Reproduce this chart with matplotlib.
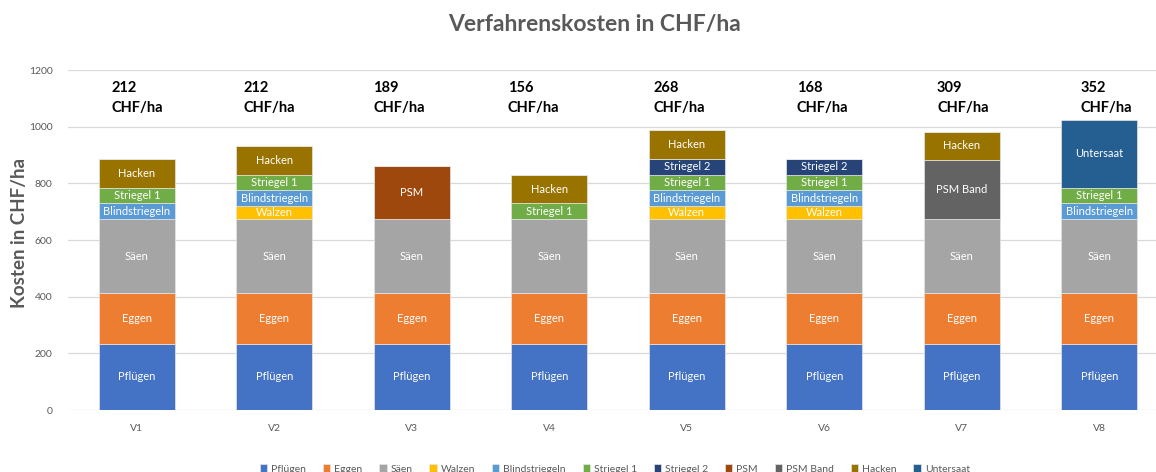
import numpy as np
import matplotlib
matplotlib.use('Agg')
import matplotlib.pyplot as plt

plt.rcParams['font.family'] = ['Lato', 'DejaVu Sans']

# cost per operation and variant in CHF/ha
variants = ['V1', 'V2', 'V3', 'V4', 'V5', 'V6', 'V7', 'V8']
operations = ['Pflügen', 'Eggen', 'Säen', 'Walzen', 'Blindstriegeln', 'Striegel 1',
              'Striegel 2', 'PSM', 'PSM Band', 'Hacken', 'Untersaat']
pfluegen = [233, 233, 233, 233, 233, 233, 233, 233]
eggen = [179, 179, 179, 179, 179, 179, 179, 179]
saeen = [261, 261, 261, 261, 261, 261, 261, 261]
walzen = [0, 46, 0, 0, 46, 46, 0, 0]
blindstriegeln = [56, 56, 0, 0, 56, 56, 0, 56]
striegel1 = [56, 56, 0, 56, 56, 56, 0, 56]
striegel2 = [0, 0, 0, 0, 56, 56, 0, 0]
psm = [0, 0, 189, 0, 0, 0, 0, 0]
psm_band = [0, 0, 0, 0, 0, 0, 209, 0]
hacken = [100, 100, 0, 100, 100, 0, 100, 0]
untersaat = [0, 0, 0, 0, 0, 0, 0, 240]

series = [pfluegen, eggen, saeen, walzen, blindstriegeln, striegel1,
          striegel2, psm, psm_band, hacken, untersaat]
colors = ['#4472C4', '#ED7D31', '#A5A5A5', '#FFC000', '#5B9BD5', '#70AD47',
          '#264478', '#9E480E', '#636363', '#997300', '#255E91']
# weed control operations (everything after Walzen) make up the total above each bar
weed_idx = [4, 5, 6, 7, 8, 9, 10]
label_shift = [-0.18, -0.22, -0.28, -0.30, -0.245, -0.20, -0.18, -0.133]

fig = plt.figure(figsize=(11.56, 4.72), dpi=100)
ax = fig.add_axes([68 / 1156, 62 / 472, 1100 / 1156, 340 / 472])

x = np.arange(len(variants))
bottom = np.zeros(len(variants))
for name, vals, col in zip(operations, series, colors):
    vals = np.asarray(vals, dtype=float)
    ax.bar(x, vals, 0.55, bottom=bottom, color=col, label=name,
           edgecolor='#E6E6E6', linewidth=0.5, zorder=3)
    for i, v in enumerate(vals):
        if v > 0:
            ax.text(x[i], bottom[i] + v / 2, name, ha='center', va='center',
                    color='white', fontsize=8, zorder=4)
    bottom += vals

weed = np.sum([series[k] for k in weed_idx], axis=0)
for i, w in enumerate(weed):
    ax.text(x[i] + label_shift[i], 1138, '%d' % w, ha='left', va='center',
            fontsize=10.5, fontweight='bold', color='black')
    ax.text(x[i] + label_shift[i], 1065, 'CHF/ha', ha='left', va='center',
            fontsize=10.5, fontweight='bold', color='black')

ax.set_xlim(-0.5, 7.5)
ax.set_ylim(0, 1200)
ax.set_yticks(np.arange(0, 1201, 200))
ax.set_xticks(x)
ax.set_xticklabels(variants)
ax.yaxis.grid(True, color='#D9D9D9', linewidth=0.9, zorder=0)
ax.set_axisbelow(True)
for s in ax.spines.values():
    s.set_visible(False)
ax.tick_params(axis='both', length=0, colors='#595959', labelsize=7.5)
ax.tick_params(axis='y', pad=11)
ax.tick_params(axis='x', pad=10)

fig.text(594 / 1156, 1 - 25 / 472, 'Verfahrenskosten in CHF/ha', ha='center', va='center',
         fontsize=16.5, fontweight='bold', color='#595959')
fig.text(20 / 1156, 0.506, 'Kosten in CHF/ha', ha='center', va='center', rotation=90,
         fontsize=13.5, fontweight='bold', color='#595959')

fig.legend(loc='center', bbox_to_anchor=(615 / 1156, 3 / 472), ncol=11, frameon=False,
           fontsize=7.5, handlelength=0.7, handleheight=0.7, handletextpad=0.4,
           columnspacing=1.6, labelcolor='#595959')

fig.savefig('out.png', dpi=100)
